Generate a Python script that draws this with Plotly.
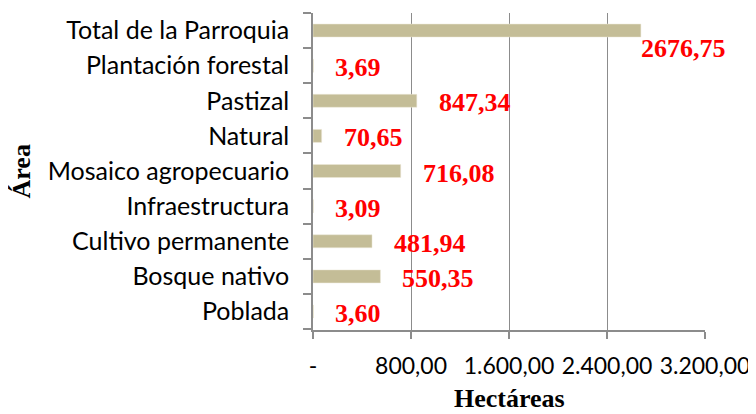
import plotly.graph_objects as go

categories = ["Poblada", "Bosque nativo", "Cultivo permanente", "Infraestructura",
              "Mosaico agropecuario", "Natural", "Pastizal", "Plantación forestal",
              "Total de la Parroquia"]
values = [3.60, 550.35, 481.94, 3.09, 716.08, 70.65, 847.34, 3.69, 2676.75]
value_labels = ["3,60", "550,35", "481,94", "3,09", "716,08", "70,65", "847,34", "3,69", "2676,75"]
x_tickvals = [0, 800, 1600, 2400, 3200]
x_ticktext = ["-", "800,00", "1.600,00", "2.400,00", "3.200,00"]

fig = go.Figure()
fig.add_trace(go.Bar(
    y=categories, x=values, orientation="h",
    marker=dict(color="#c4bd97", line=dict(color="#ece8d8", width=0.5)),
    width=0.37, hoverinfo="skip",
))

for cat, v, lab in zip(categories, values, value_labels):
    last = cat == "Total de la Parroquia"
    fig.add_annotation(
        x=v, y=cat, text=lab, showarrow=False, xanchor="left", yanchor="middle",
        xshift=-2 if last else 20, yshift=-18 if last else -2,
        font=dict(family="Liberation Serif", size=26, color="#ff0000", weight="bold"),
    )

title_font = dict(family="Liberation Serif", size=26, color="#000")
fig.add_annotation(text="<b>Hectáreas</b>", xref="paper", yref="paper", x=0.5, y=0,
                   yshift=-68, showarrow=False, xanchor="center", yanchor="middle",
                   font=title_font)
fig.add_annotation(text="<b>Área</b>", xref="paper", yref="paper", x=0, y=0.5,
                   xshift=-292, showarrow=False, xanchor="center", yanchor="middle",
                   textangle=-90, font=title_font)

fig.update_layout(
    width=748, height=406,
    margin=dict(l=305, r=51, t=5, b=84, autoexpand=False),
    paper_bgcolor="white", plot_bgcolor="white",
    showlegend=False,
    font=dict(family="Lato", size=25, color="#000000"),
    xaxis=dict(
        range=[0, 3200], tickvals=x_tickvals, ticktext=x_ticktext,
        tickangle=0,
        showgrid=True, gridcolor="#8c8c8c", gridwidth=1,
        showline=True, linecolor="#8c8c8c", linewidth=1.5,
        ticks="outside", ticklen=7, tickcolor="#8c8c8c", tickwidth=1.5,
        ticklabelstandoff=8, zeroline=False, automargin=False,
        tickfont=dict(size=23),
    ),
    yaxis=dict(
        categoryorder="array", categoryarray=categories,
        showline=True, linecolor="#8c8c8c", linewidth=1.5,
        ticks="outside", ticklen=8, tickcolor="#8c8c8c", tickwidth=1.5,
        tickson="boundaries", ticklabelstandoff=17,
        showgrid=False, zeroline=False, automargin=False,
    ),
)

fig.write_html("out.html")
